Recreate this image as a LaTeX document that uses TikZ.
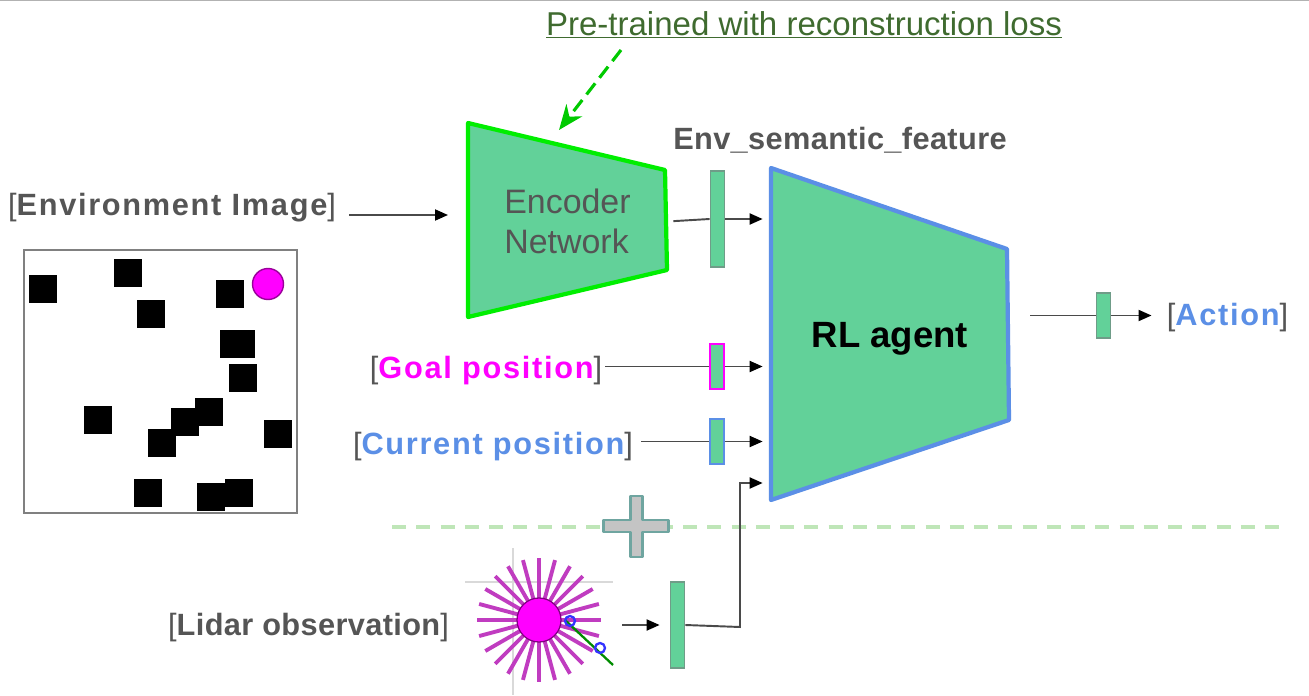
\documentclass[tikz,border=0pt]{standalone}
\usepackage{fontspec}
\setmainfont{Liberation Sans}
\usetikzlibrary{arrows.meta, calc}
\definecolor{netgreen}{HTML}{62D199}
\definecolor{limeline}{HTML}{00EE00}
\definecolor{agentblue}{HTML}{5B8FE6}
\definecolor{goalpink}{HTML}{FF00FF}
\definecolor{raypurple}{HTML}{C03CC0}
\definecolor{dkgray}{HTML}{555555}
\definecolor{wire}{HTML}{4A4A4A}
\definecolor{barline}{HTML}{6F9C88}
\definecolor{lossgreen}{HTML}{3F6B2F}
\definecolor{dashgreen}{HTML}{BFE6B8}
\definecolor{crossgray}{HTML}{C4C4C4}
\definecolor{crossline}{HTML}{6FA5A0}

\begin{document}
\begin{tikzpicture}[>={Stealth[length=2.6mm, width=2.2mm, inset=0pt, color=black]},
  label/.style={text=dkgray, font=\fontsize{17.5}{20}\selectfont\bfseries\addfontfeatures{LetterSpace=5.5}, inner sep=0pt},
  tightlabel/.style={text=dkgray, font=\fontsize{17.5}{20}\selectfont\bfseries\addfontfeatures{LetterSpace=1.2}, inner sep=0pt},
  netbox/.style={inner sep=0pt},
  featbar/.style={draw=barline, fill=netgreen, line width=1pt, minimum width=0.28cm, inner sep=0pt},
  conn/.style={wire, line width=1.1pt},
  obstacle/.style={fill=black, minimum size=0.56cm, inner sep=0pt}]

% Background
\useasboundingbox (0,0) rectangle (26.18,13.9);
\fill[white] (0,0) rectangle (26.18,13.9);
\draw[gray!60, line width=1pt] (0,13.9) -- (26.18,13.9);

% ================================================================
% ENVIRONMENT IMAGE
% ================================================================
\node[label] (envlabel) at (3.44,9.74) {{\mdseries[}Environment Image{\mdseries]}};

\draw[gray, line width=1.3pt] (0.48,3.64) rectangle (5.94,8.9);
\foreach \ox/\oy in {0.85/8.13, 2.56/8.45, 3.02/7.63, 4.6/8.02, 4.68/7.03,
                     4.82/7.03, 4.86/6.34, 4.18/5.67, 3.69/5.47, 3.23/5.05,
                     1.96/5.5, 5.55/5.23, 2.96/4.05, 4.21/3.97, 4.78/4.05}
  \node[obstacle] at (\ox,\oy) {};
\fill[goalpink] (5.36,8.22) circle (0.31cm);
\draw[goalpink!60!black, line width=0.8pt] (5.36,8.22) circle (0.31cm);

% ================================================================
% ENCODER
% ================================================================
\filldraw[fill=netgreen, draw=limeline, line width=2.4pt, line join=round]
  (9.36,11.44) -- (13.3,10.5) -- (13.34,8.5) -- (9.36,7.56) -- cycle;
\node[netbox, align=left, text=dkgray, font=\fontsize{19.3}{23}\selectfont,
      minimum width=3.98cm, minimum height=3.88cm] (encoder) at (11.35,9.47)
  {Encoder\\Network};

% Pre-training note
\node[text=lossgreen, font=\fontsize{18.8}{20}\selectfont, inner sep=0pt] (pretrain) at (16.08,13.4)
  {\underline{Pre-trained with reconstruction loss}};
\coordinate (dash-top) at (12.42,12.9);
\coordinate (dash-end) at (11.18,11.3);
\draw[limeline!85!black, line width=1.8pt, dash pattern=on 8pt off 4pt,
      -{Stealth[length=5mm, width=4mm]}]
  (dash-top) -- (dash-end);

% ================================================================
% RL AGENT
% ================================================================
\filldraw[fill=netgreen, draw=agentblue, line width=2.4pt, line join=round]
  (15.42,10.54) -- (20.14,8.92) -- (20.18,5.5) -- (15.42,3.9) -- cycle;
\node[netbox, text=black, font=\fontsize{20.8}{22}\selectfont\bfseries,
      minimum width=4.76cm, minimum height=6.64cm] (agent) at (17.8,7.13) {RL agent};

% ================================================================
% FEATURE BARS AND INPUT LABELS
% ================================================================
\node[tightlabel] (envfeat) at (16.8,11.1) {Env\_semantic\_feature};
\node[featbar, minimum height=1.92cm] (envbar) at (14.35,9.52) {};

\node[label] (goal) at (9.72,6.48)
  {{\mdseries[}\textcolor{goalpink}{Goal position}{\mdseries]}};
\node[featbar, draw=goalpink, minimum height=0.9cm] (goalbar) at (14.34,6.57) {};

\node[label] (current) at (9.86,4.96)
  {{\mdseries[}\textcolor{agentblue}{Current position}{\mdseries]}};
\node[featbar, draw=agentblue, minimum height=0.9cm] (currentbar) at (14.34,5.07) {};

\node[featbar, minimum height=0.9cm] (actionbar) at (22.07,7.59) {};
\node[label] (action) at (24.55,7.54)
  {{\mdseries[}\textcolor{agentblue}{Action}{\mdseries]}};

% Divider and plus sign
\draw[dashgreen, line width=2pt, dash pattern=on 8pt off 5.8pt] (7.84,3.36) -- (25.7,3.36);
\filldraw[fill=crossgray, draw=crossline, line width=1.7pt, line join=round]
  (12.06,3.5) -- (12.6,3.5) -- (12.6,3.98) -- (12.84,3.98) -- (12.84,3.5) -- (13.36,3.5)
  -- (13.36,3.26) -- (12.84,3.26) -- (12.84,2.76) -- (12.6,2.76) -- (12.6,3.26)
  -- (12.06,3.26) -- cycle;

% ================================================================
% LIDAR
% ================================================================
\node[tightlabel] (lidarlabel) at (6.17,1.34) {{\mdseries[}Lidar observation{\mdseries]}};

\draw[gray!30, line width=0.9pt] (9.3,2.26) -- (12.26,2.26);
\draw[gray!30, line width=0.9pt] (10.26,2.94) -- (10.26,0);
\foreach \ang in {0,15,...,345}
  \draw[raypurple, line width=2.2pt] (10.78,1.5) -- ++(\ang:1.24);
\node[circle, fill=goalpink, draw=goalpink!50!black, line width=0.7pt,
      minimum size=0.88cm, inner sep=0pt] (lidar) at (10.78,1.5) {};
\draw[green!55!black, line width=1.3pt] (11.3,1.5) -- (12.26,0.6);
\draw[blue!80, line width=1.3pt] (11.4,1.48) circle (0.1cm);
\draw[blue!80, line width=1.3pt] (12.0,0.94) circle (0.1cm);

\node[featbar, minimum height=1.72cm] (lidarbar) at (13.55,1.4) {};

% ================================================================
% CONNECTORS
% ================================================================
\coordinate (enc-in) at (9.36,9.6);
\draw[conn, ->, shorten <=0.26cm, shorten >=0.4cm] (envlabel.east |- enc-in) -- (enc-in);

\draw[conn, shorten <=0.12cm] (encoder.east) -- (envbar.west);
\draw[conn, ->, shorten >=0.16cm] (envbar.east) -- (envbar.east -| agent.west);

\draw[conn, shorten <=0.06cm] (goal.east |- goalbar.west) -- (goalbar.west);
\draw[conn, ->, shorten >=0.16cm] (goalbar.east) -- (goalbar.east -| agent.west);

\draw[conn, shorten <=0.16cm] (current.east |- currentbar.west) -- (currentbar.west);
\draw[conn, ->, shorten >=0.16cm] (currentbar.east) -- (currentbar.east -| agent.west);

\coordinate (lidar-out) at (12.44,1.4);
\draw[conn, ->, shorten >=0.2cm] (lidar-out) -- (lidarbar.west);

\coordinate (lidar-turn) at (14.8,1.36);
\coordinate (lidar-up) at (14.8,4.24);
\draw[conn, ->, shorten >=0.16cm] (lidarbar.east) -- (lidar-turn) -- (lidar-up)
  -- (lidar-up -| agent.west);

\draw[conn, shorten <=0.42cm] (agent.east |- actionbar.west) -- (actionbar.west);
\draw[conn, ->, shorten >=0.3cm] (actionbar.east) -- (action.west |- actionbar.east);

\end{tikzpicture}
\end{document}
